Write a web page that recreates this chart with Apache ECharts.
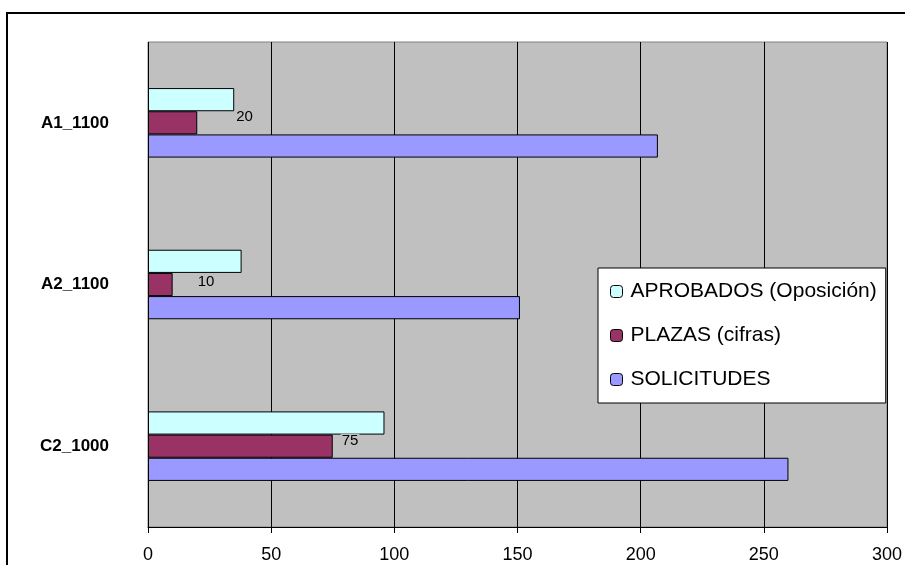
<!DOCTYPE html>
<html>
<head>
<meta charset="utf-8">
<script src="https://cdn.jsdelivr.net/npm/echarts@6/dist/echarts.min.js"></script>
<style>
html, body { margin: 0; padding: 0; background: #fff; }
#chart { width: 905px; height: 565px; }
</style>
</head>
<body>
<div id="chart"></div>
<script>
var categories = ['C2_1000', 'A2_1100', 'A1_1100'];
var solicitudes = [260, 151, 207];
var plazas = [75, 10, 20];
var aprobados = [96, 38, 35];
var xTicks = [0, 50, 100, 150, 200, 250, 300];

var myChart = echarts.init(document.getElementById('chart'));
var font = '"Liberation Sans", Arial, sans-serif';

// desplazamiento de las etiquetas de PLAZAS (como en el original)
var labelOffsets = [[3, -5], [19, -3], [33, -6]];

myChart.setOption({
    animation: false,
    textStyle: { fontFamily: font },
    graphic: [{
        type: 'rect',
        shape: { x: 7, y: 13, width: 910, height: 570 },
        style: { fill: 'none', stroke: '#000', lineWidth: 2 },
        silent: true
    }],
    grid: {
        left: 148, top: 42, right: 15, bottom: 38,
        show: true,
        backgroundColor: '#C0C0C0',
        borderColor: '#808080',
        borderWidth: 1
    },
    legend: {
        orient: 'vertical',
        left: 598, top: 268,
        padding: [13, 9, 13, 12],
        itemGap: 23,
        itemWidth: 12, itemHeight: 12,
        backgroundColor: '#fff',
        borderColor: '#000',
        borderWidth: 1,
        textStyle: { fontSize: 21, color: '#000', fontFamily: font, padding: [0, 0, 0, 3] },
        data: ['APROBADOS (Oposición)', 'PLAZAS (cifras)', 'SOLICITUDES'],
        itemStyle: { borderColor: '#000', borderWidth: 1 }
    },
    xAxis: {
        type: 'value',
        min: xTicks[0],
        max: xTicks[xTicks.length - 1],
        interval: 50,
        axisLine: { show: true, lineStyle: { color: '#000' } },
        axisTick: { show: true, length: 6, lineStyle: { color: '#000' } },
        axisLabel: { color: '#000', fontSize: 18, margin: 19, fontFamily: font },
        splitLine: { show: true, lineStyle: { color: '#000', width: 1 } }
    },
    yAxis: {
        type: 'category',
        data: categories,
        axisLine: { show: false },
        axisTick: { show: false },
        axisLabel: { color: '#000', fontSize: 17, fontWeight: 'bold', margin: 39, fontFamily: font }
    },
    series: [
        {
            name: 'APROBADOS (Oposición)',
            type: 'bar',
            data: aprobados,
            barGap: '0%',
            barCategoryGap: '57%',
            itemStyle: { color: '#CCFFFF', borderColor: '#000', borderWidth: 1 }
        },
        {
            name: 'PLAZAS (cifras)',
            type: 'bar',
            data: plazas.map(function (v, i) {
                return { value: v, label: { offset: labelOffsets[i] } };
            }),
            barGap: '0%',
            barCategoryGap: '57%',
            itemStyle: { color: '#993366', borderColor: '#000', borderWidth: 1 },
            label: {
                show: true,
                position: 'right',
                color: '#000',
                fontSize: 15,
                fontFamily: font,
                backgroundColor: '#C0C0C0',
                padding: [0, 1]
            }
        },
        {
            name: 'SOLICITUDES',
            type: 'bar',
            data: solicitudes,
            barGap: '0%',
            barCategoryGap: '57%',
            itemStyle: { color: '#9999FF', borderColor: '#000', borderWidth: 1 }
        }
    ]
});
</script>
</body>
</html>
